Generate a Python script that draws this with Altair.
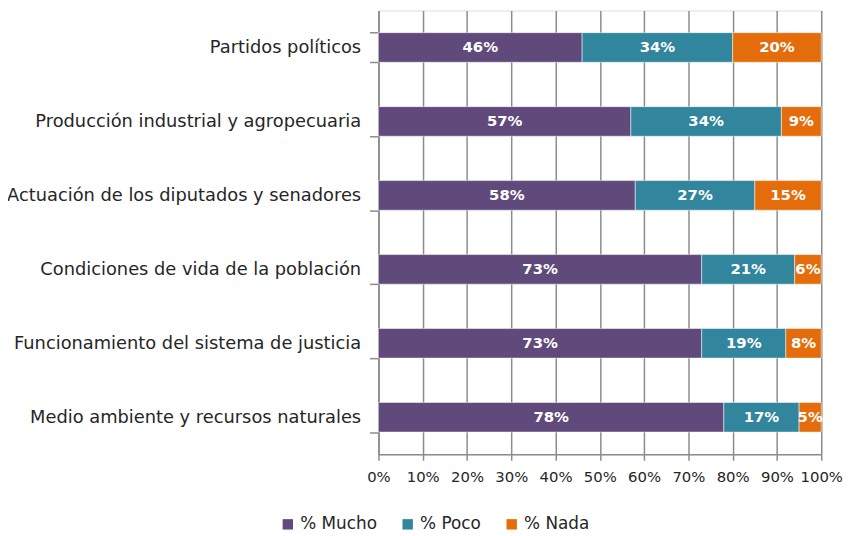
import altair as alt
import pandas as pd

categories = [
    "Partidos políticos",
    "Producción industrial y agropecuaria",
    "Actuación de los diputados y senadores",
    "Condiciones de vida de la población",
    "Funcionamiento del sistema de justicia",
    "Medio ambiente y recursos naturales",
]
series = ["% Mucho", "% Poco", "% Nada"]
mucho = [46, 57, 58, 73, 73, 78]
poco = [34, 34, 27, 21, 19, 17]
nada = [20, 9, 15, 6, 8, 5]
colors = ["#604A7B", "#31859C", "#E46C0A"]

rows = []
for i, c in enumerate(categories):
    for j, (s, vals) in enumerate(zip(series, [mucho, poco, nada])):
        rows.append({"cat": c, "serie": s, "val": vals[i] / 100, "ord": j,
                     "label": f"{vals[i]}%"})
df = pd.DataFrame(rows)

FONT = "DejaVu Sans"
TXT = "#262626"
GRID = "#8c8c8c"

base = alt.Chart(df).encode(
    y=alt.Y("cat:N", sort=categories, title=None,
            scale=alt.Scale(paddingInner=0.6, paddingOuter=0.3),
            axis=alt.Axis(tickBand="extent", labelFontSize=18, labelFont=FONT,
                          labelColor=TXT, labelPadding=9, tickSize=9,
                          tickColor=GRID, domainColor=GRID, tickWidth=1.5,
                          domainWidth=1.5, labelLimit=420, grid=False)),
)

bars = base.mark_bar(stroke="white", strokeWidth=0.5).encode(
    x=alt.X("sum(val):Q", stack="zero", title=None,
            scale=alt.Scale(domain=[0, 1], nice=False),
            axis=alt.Axis(format=".0%", values=[i / 10 for i in range(11)],
                          labelOverlap=False, labelFlush=False,
                          labelFontSize=15, labelFont=FONT, labelColor=TXT,
                          tickColor=GRID, domainColor=GRID, tickWidth=1.5,
                          domainWidth=1.5, gridColor=GRID, gridWidth=1.5,
                          tickSize=6, labelPadding=9)),
    color=alt.Color("serie:N", sort=series,
                    scale=alt.Scale(domain=series, range=colors),
                    legend=alt.Legend(orient="none", direction="horizontal",
                                      legendX=-100, legendY=510, title=None,
                                      symbolType="square", symbolSize=110,
                                      labelFontSize=17, labelFont=FONT,
                                      labelColor=TXT, columnPadding=22,
                                      labelOffset=4, symbolStrokeWidth=0)),
    order=alt.Order("ord:Q"),
)

text = base.mark_text(color="white", fontWeight="bold", fontSize=15, font=FONT).encode(
    x=alt.X("mid:Q"),
    text="label:N",
).transform_stack(
    stack="val", groupby=["cat"], as_=["x0", "x1"], sort=[alt.SortField("ord")]
).transform_calculate(mid="(datum.x0 + datum.x1) / 2")

chart = alt.layer(bars, text).properties(
    width=447, height=448,
    autosize=alt.AutoSizeParams(type="none"),
    padding={"left": 374, "top": 0, "right": 25, "bottom": 80},
).configure_view(stroke=GRID, strokeWidth=1.5).configure(background="white")

chart.save("out.html", embed_options={"renderer": "svg", "actions": False})
